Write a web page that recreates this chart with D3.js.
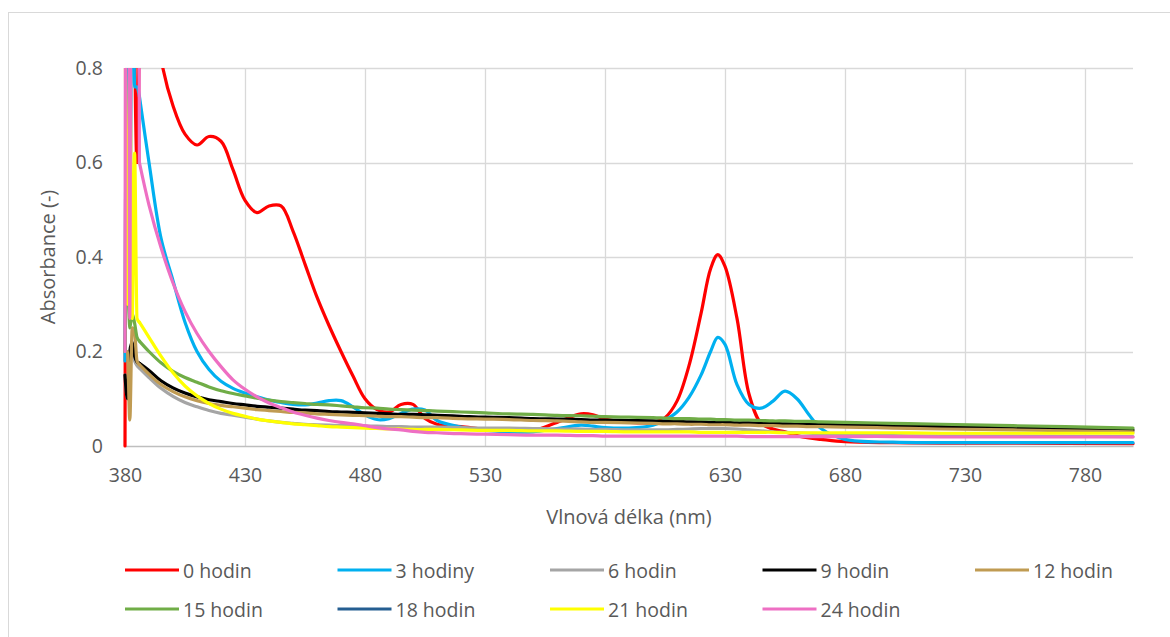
<!DOCTYPE html>
<html>
<head>
<meta charset="utf-8">
<script src="https://cdn.jsdelivr.net/npm/d3@7"></script>
<style>
    body { margin: 0; background: #fff; }
    text { font-family: 'Open Sans', sans-serif; fill: #595959; }
</style>
</head>
<body>
<svg id="chart" width="1170" height="637"></svg>
<script>
// wavelengths (nm), shared by all series
const wavelengths = [380, 381, 382, 383, 384, 385, 386, 390, 395, 400, 405, 410, 415, 420, 425, 430, 435, 440, 445, 450,
    455, 460, 465, 470, 475, 480, 485, 490, 495, 500, 505, 510, 520, 530, 540, 550, 560, 570, 575, 580,
    590, 600, 605, 610, 615, 620, 624, 627, 630, 635, 640, 645, 650, 655, 660, 665, 670, 680, 700, 720, 750, 800];

const h0 = [0, 1.5, 0.3, 1.8, 0.9, 0.6, 0.9, 1.05, 0.82, 0.72, 0.66, 0.637, 0.655, 0.645, 0.585, 0.52, 0.494, 0.508, 0.508, 0.455,
    0.385, 0.315, 0.255, 0.2, 0.148, 0.1, 0.077, 0.072, 0.088, 0.088, 0.058, 0.046, 0.041, 0.035, 0.031, 0.033, 0.05, 0.068, 0.066, 0.057,
    0.05, 0.05, 0.06, 0.095, 0.17, 0.28, 0.375, 0.405, 0.38, 0.27, 0.11, 0.048, 0.036, 0.03, 0.022, 0.017, 0.014, 0.009, 0.007, 0.006, 0.006, 0.005];
const h3 = [0.18, 1.2, 0.3, 1.5, 0.76, 0.76, 0.74, 0.6, 0.44, 0.35, 0.262, 0.2, 0.162, 0.137, 0.122, 0.112, 0.104, 0.097, 0.092, 0.088,
    0.087, 0.091, 0.096, 0.096, 0.083, 0.066, 0.056, 0.058, 0.069, 0.078, 0.076, 0.054, 0.04, 0.033, 0.03, 0.03, 0.037, 0.044, 0.042, 0.039,
    0.038, 0.044, 0.055, 0.072, 0.103, 0.15, 0.2, 0.23, 0.215, 0.13, 0.088, 0.08, 0.095, 0.116, 0.1, 0.066, 0.037, 0.014, 0.008, 0.007, 0.007, 0.007];
const h6 = [0.15, 0.1, 0.2, 0.2, 0.18, 0.17, 0.165, 0.145, 0.122, 0.105, 0.092, 0.083, 0.075, 0.069, 0.065, 0.061, 0.057, 0.053, 0.05, 0.048,
    0.046, 0.045, 0.044, 0.043, 0.043, 0.042, 0.042, 0.041, 0.041, 0.04, 0.04, 0.04, 0.039, 0.038, 0.038, 0.037, 0.036, 0.036, 0.035, 0.035,
    0.034, 0.034, 0.034, 0.035, 0.036, 0.037, 0.037, 0.037, 0.037, 0.036, 0.034, 0.032, 0.03, 0.029, 0.028, 0.027, 0.026, 0.024, 0.022, 0.021, 0.021, 0.02];
const h9 = [0.15, 0.1, 0.2, 0.22, 0.19, 0.178, 0.175, 0.16, 0.138, 0.123, 0.112, 0.104, 0.098, 0.094, 0.09, 0.087, 0.084, 0.082, 0.08, 0.078,
    0.076, 0.075, 0.073, 0.072, 0.071, 0.07, 0.069, 0.068, 0.067, 0.067, 0.066, 0.065, 0.063, 0.061, 0.06, 0.058, 0.057, 0.056, 0.055, 0.055,
    0.054, 0.053, 0.052, 0.052, 0.051, 0.051, 0.05, 0.05, 0.05, 0.049, 0.049, 0.048, 0.048, 0.047, 0.047, 0.046, 0.046, 0.045, 0.043, 0.041, 0.038, 0.034];
const h12 = [0.2, 0.2, 0.055, 0.25, 0.24, 0.18, 0.172, 0.152, 0.13, 0.115, 0.104, 0.096, 0.09, 0.086, 0.083, 0.08, 0.077, 0.075, 0.073, 0.071,
    0.07, 0.068, 0.067, 0.066, 0.065, 0.064, 0.063, 0.062, 0.062, 0.061, 0.06, 0.06, 0.058, 0.057, 0.056, 0.054, 0.053, 0.051, 0.05, 0.05,
    0.049, 0.048, 0.047, 0.047, 0.046, 0.046, 0.045, 0.045, 0.045, 0.044, 0.044, 0.043, 0.043, 0.042, 0.042, 0.041, 0.041, 0.04, 0.038, 0.036, 0.034, 0.03];
const h15 = [0.2, 0.42, 0.25, 0.28, 0.26, 0.23, 0.222, 0.2, 0.176, 0.158, 0.145, 0.135, 0.125, 0.117, 0.111, 0.106, 0.101, 0.097, 0.094, 0.092,
    0.09, 0.088, 0.087, 0.085, 0.083, 0.081, 0.08, 0.078, 0.077, 0.076, 0.075, 0.074, 0.072, 0.07, 0.068, 0.067, 0.065, 0.064, 0.063, 0.062,
    0.061, 0.06, 0.059, 0.058, 0.058, 0.057, 0.057, 0.056, 0.056, 0.055, 0.055, 0.054, 0.053, 0.053, 0.052, 0.052, 0.051, 0.05, 0.048, 0.046, 0.043, 0.038];
const h18 = []; // no visible trace in the picture
const h21 = [1.0, 0.3, 0.8, 0.27, 0.62, 0.27, 0.262, 0.23, 0.19, 0.155, 0.127, 0.106, 0.09, 0.078, 0.069, 0.063, 0.057, 0.053, 0.05, 0.047,
    0.045, 0.043, 0.041, 0.04, 0.039, 0.038, 0.037, 0.036, 0.036, 0.035, 0.035, 0.035, 0.034, 0.033, 0.033, 0.032, 0.032, 0.031, 0.031, 0.031,
    0.03, 0.03, 0.03, 0.03, 0.03, 0.029, 0.029, 0.029, 0.029, 0.029, 0.029, 0.029, 0.029, 0.028, 0.028, 0.028, 0.028, 0.028, 0.028, 0.027, 0.027, 0.027];
const h24 = [0.2, 3, 0.27, 3, 3, 3, 0.6, 0.51, 0.42, 0.345, 0.285, 0.238, 0.2, 0.168, 0.14, 0.12, 0.104, 0.091, 0.081, 0.072,
    0.065, 0.059, 0.054, 0.05, 0.047, 0.043, 0.039, 0.036, 0.034, 0.031, 0.029, 0.028, 0.026, 0.025, 0.024, 0.023, 0.023, 0.022, 0.022, 0.021,
    0.021, 0.021, 0.021, 0.021, 0.021, 0.021, 0.021, 0.021, 0.021, 0.021, 0.02, 0.02, 0.02, 0.02, 0.02, 0.02, 0.02, 0.02, 0.02, 0.019, 0.019, 0.019];

const seriesNames = ['0 hodin', '3 hodiny', '6 hodin', '9 hodin', '12 hodin', '15 hodin', '18 hodin', '21 hodin', '24 hodin'];
const seriesValues = [h0, h3, h6, h9, h12, h15, h18, h21, h24];
const seriesColors = ['#ff0000', '#00b0f0', '#a5a5a5', '#000000', '#c09b52', '#70ad47', '#255e91', '#ffff00', '#ee6fc3'];

const xTicks = [380, 430, 480, 530, 580, 630, 680, 730, 780];
const yTicks = [0, 0.2, 0.4, 0.6, 0.8];

// the noisy start of each scan (up to this index) is drawn without smoothing overshoot
const SPIKE_END = 6;

const svg = d3.select('#chart');

// chart border (runs off the right/bottom like in the original)
svg.append('rect')
    .attr('x', 8.5).attr('y', 12.5)
    .attr('width', 1200).attr('height', 700)
    .attr('fill', 'none')
    .attr('stroke', '#d9d9d9');

const x = d3.scaleLinear().domain([380, 800]).range([125, 1133]);
const y = d3.scaleLinear().domain([0, 0.8]).range([446, 68]);

// gridlines
svg.append('g')
    .selectAll('line')
    .data(yTicks.slice(1))
    .enter()
    .append('line')
    .attr('x1', x(380)).attr('x2', x(800))
    .attr('y1', d => Math.round(y(d)) + 0.5).attr('y2', d => Math.round(y(d)) + 0.5)
    .style('stroke', '#d9d9d9')
    .style('stroke-width', 1.3);

svg.append('g')
    .selectAll('line')
    .data(xTicks)
    .enter()
    .append('line')
    .attr('x1', d => Math.round(x(d)) + 0.5).attr('x2', d => Math.round(x(d)) + 0.5)
    .attr('y1', y(0.8)).attr('y2', y(0))
    .style('stroke', '#d9d9d9')
    .style('stroke-width', 1.3);

// axes
const xAxis = svg.append('g')
    .attr('transform', `translate(0 ${y(0)})`)
    .call(d3.axisBottom(x).tickValues(xTicks).tickSize(0).tickPadding(22));
xAxis.select('.domain').attr('stroke', '#bfbfbf').attr('stroke-width', 1.5);
xAxis.selectAll('text').style('font-size', '19.5px').style('font-family', 'Open Sans').attr('fill', '#595959');

const yAxis = svg.append('g')
    .attr('transform', `translate(${x(380)} 0)`)
    .call(d3.axisLeft(y).tickValues(yTicks).tickSize(0).tickPadding(22).tickFormat(d => d === 0 ? '0' : d3.format('.1f')(d)));
yAxis.select('.domain').remove();
yAxis.selectAll('text').style('font-size', '19.5px').style('font-family', 'Open Sans').attr('fill', '#595959');

// axis titles
svg.append('text')
    .attr('x', 629).attr('y', 524)
    .attr('text-anchor', 'middle')
    .style('font-size', '20px')
    .text('Vlnová délka (nm)');

svg.append('text')
    .attr('transform', `translate(55 ${257}) rotate(-90)`)
    .attr('text-anchor', 'middle')
    .style('font-size', '20px')
    .text('Absorbance (-)');

// lines
svg.append('clipPath').attr('id', 'plot-clip')
    .append('rect')
    .attr('x', x(380) - 2).attr('y', y(0.8))
    .attr('width', x(800) - x(380) + 4).attr('height', y(0) - y(0.8) + 2);

const spikeLine = d3.line()
    .x(d => x(d[0]))
    .y(d => y(d[1]))
    .curve(d3.curveMonotoneX);

const smoothLine = d3.line()
    .x(d => x(d[0]))
    .y(d => y(d[1]))
    .curve(d3.curveCatmullRom.alpha(0.5));

const plot = svg.append('g').attr('clip-path', 'url(#plot-clip)');
seriesValues.forEach((values, i) => {
    if (!values.length) return;
    const pts = values.map((v, j) => [wavelengths[j], v]);
    const g = plot.append('g')
        .attr('fill', 'none')
        .attr('stroke', seriesColors[i])
        .attr('stroke-width', 3.2)
        .attr('stroke-linejoin', 'round')
        .attr('stroke-linecap', 'round');
    g.append('path').attr('d', spikeLine(pts.slice(0, SPIKE_END + 1)));
    g.append('path').attr('d', smoothLine(pts.slice(SPIKE_END)));
});

// legend
const legend = svg.append('g');
seriesNames.forEach((name, i) => {
    const col = i % 5;
    const row = Math.floor(i / 5);
    const lx = 125 + col * 212.5;
    const ly = 570 + row * 39;
    legend.append('line')
        .attr('x1', lx).attr('x2', lx + 54)
        .attr('y1', ly).attr('y2', ly)
        .attr('stroke', seriesColors[i])
        .attr('stroke-width', 3.2);
    legend.append('text')
        .attr('x', lx + 58).attr('y', ly)
        .attr('dominant-baseline', 'central')
        .style('font-size', '19.5px')
        .text(name);
});
</script>
</body>
</html>
